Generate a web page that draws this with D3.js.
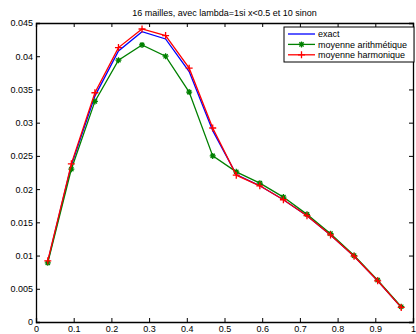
<!DOCTYPE html>
<html>
<head>
<meta charset="utf-8">
<script src="https://cdn.jsdelivr.net/npm/d3@7"></script>
<style>
  body { margin: 0; background: #fff; }
  text { font-family: "Liberation Sans", Arial, sans-serif; }
</style>
</head>
<body>
<div id="chart"></div>
<script>
// 16 cells, centres of the mesh
let xs = [0.03125, 0.09375, 0.15625, 0.21875, 0.28125, 0.34375, 0.40625, 0.46875,
          0.53125, 0.59375, 0.65625, 0.71875, 0.78125, 0.84375, 0.90625, 0.96875]
let exact = [0.0091, 0.0236, 0.0340, 0.0408, 0.0437, 0.0426, 0.0377, 0.0288,
             0.0222, 0.0205, 0.0184, 0.0160, 0.0131, 0.0099, 0.0062, 0.0022]
let arith = [0.0089, 0.0230, 0.0332, 0.0394, 0.0417, 0.0400, 0.0346, 0.0250,
             0.0226, 0.0209, 0.0188, 0.0162, 0.0133, 0.0100, 0.0063, 0.0023]
let harmo = [0.0092, 0.0238, 0.0345, 0.0413, 0.0441, 0.0431, 0.0382, 0.0292,
             0.0221, 0.0205, 0.0184, 0.0160, 0.0131, 0.0099, 0.0062, 0.0022]
let xTicks = [0, 0.1, 0.2, 0.3, 0.4, 0.5, 0.6, 0.7, 0.8, 0.9, 1]
let yTicks = [0, 0.005, 0.01, 0.015, 0.02, 0.025, 0.03, 0.035, 0.04, 0.045]
let seriesNames = ["exact", "moyenne arithmétique", "moyenne harmonique"]
let title = "16 mailles, avec lambda=1si x<0.5 et 10 sinon"

var width = 416, height = 334
var margin = {top: 23, right: 3, bottom: 12, left: 36}

var svg = d3.select("#chart").append("svg")
  .attr("width", width)
  .attr("height", height)

var x = d3.scaleLinear().domain([0, 1]).range([margin.left, width - margin.right])
var y = d3.scaleLinear().domain([0, 0.045]).range([height - margin.bottom, margin.top])

// axes box with inward ticks on all sides
svg.append("g")
  .attr("transform", "translate(0," + (height - margin.bottom) + ")")
  .call(d3.axisBottom(x).tickValues(xTicks).tickSize(-4).tickPadding(4).tickFormat(d3.format("")))
  .call(g => g.selectAll("text").attr("font-size", 9).attr("fill", "#000"))
svg.append("g")
  .attr("transform", "translate(0," + margin.top + ")")
  .call(d3.axisTop(x).tickValues(xTicks).tickSize(-4).tickFormat(""))
svg.append("g")
  .attr("transform", "translate(" + margin.left + ",0)")
  .call(d3.axisLeft(y).tickValues(yTicks).tickSize(-4).tickPadding(3).tickFormat(d3.format("")))
  .call(g => g.selectAll("text").attr("font-size", 9).attr("fill", "#000"))
svg.append("g")
  .attr("transform", "translate(" + (width - margin.right) + ",0)")
  .call(d3.axisRight(y).tickValues(yTicks).tickSize(-4).tickFormat(""))

svg.selectAll(".domain").attr("stroke", "#000").attr("stroke-width", 1.3)
svg.selectAll(".tick line").attr("stroke", "#000")

// title
svg.append("text")
  .attr("x", (margin.left + width - margin.right) / 2)
  .attr("y", 16)
  .attr("text-anchor", "middle")
  .attr("font-size", 9)
  .text(title)

var line = d3.line().x((d, i) => x(xs[i])).y(d => y(d))

// asterisk marker path
function star(cx, cy, r) {
  let p = ""
  for (let a = 0; a < 4; a++) {
    let t = a * Math.PI / 4
    p += "M" + (cx - r * Math.cos(t)) + "," + (cy - r * Math.sin(t)) +
         "L" + (cx + r * Math.cos(t)) + "," + (cy + r * Math.sin(t))
  }
  return p
}
function plus(cx, cy, r) {
  return "M" + (cx - r) + "," + cy + "L" + (cx + r) + "," + cy +
         "M" + cx + "," + (cy - r) + "L" + cx + "," + (cy + r)
}

svg.append("path").attr("d", line(exact))
  .attr("fill", "none").attr("stroke", "#0000ff").attr("stroke-width", 1.3)

svg.append("path").attr("d", line(arith))
  .attr("fill", "none").attr("stroke", "#008000").attr("stroke-width", 1.3)
svg.append("path")
  .attr("d", arith.map((d, i) => star(x(xs[i]), y(d), 3)).join(""))
  .attr("stroke", "#008000").attr("stroke-width", 1.3)

svg.append("path").attr("d", line(harmo))
  .attr("fill", "none").attr("stroke", "#ff0000").attr("stroke-width", 1.3)
svg.append("path")
  .attr("d", harmo.map((d, i) => plus(x(xs[i]), y(d), 3.5)).join(""))
  .attr("stroke", "#ff0000").attr("stroke-width", 1.3)

// legend
var lg = svg.append("g")
lg.append("rect")
  .attr("x", 284).attr("y", 27).attr("width", 130).attr("height", 35)
  .attr("fill", "#fff").attr("stroke", "#000").attr("stroke-width", 1)
let colors = ["#0000ff", "#008000", "#ff0000"]
seriesNames.forEach((name, i) => {
  let ly = 34 + i * 10.4
  lg.append("line").attr("x1", 288).attr("x2", 315).attr("y1", ly).attr("y2", ly)
    .attr("stroke", colors[i]).attr("stroke-width", 1.3)
  if (i == 1) lg.append("path").attr("d", star(301.5, ly, 3)).attr("stroke", colors[i]).attr("stroke-width", 1.3)
  if (i == 2) lg.append("path").attr("d", plus(301.5, ly, 3.5)).attr("stroke", colors[i]).attr("stroke-width", 1.3)
  lg.append("text").attr("x", 318).attr("y", ly + 3.2).attr("font-size", 9).text(name)
})
</script>
</body>
</html>
